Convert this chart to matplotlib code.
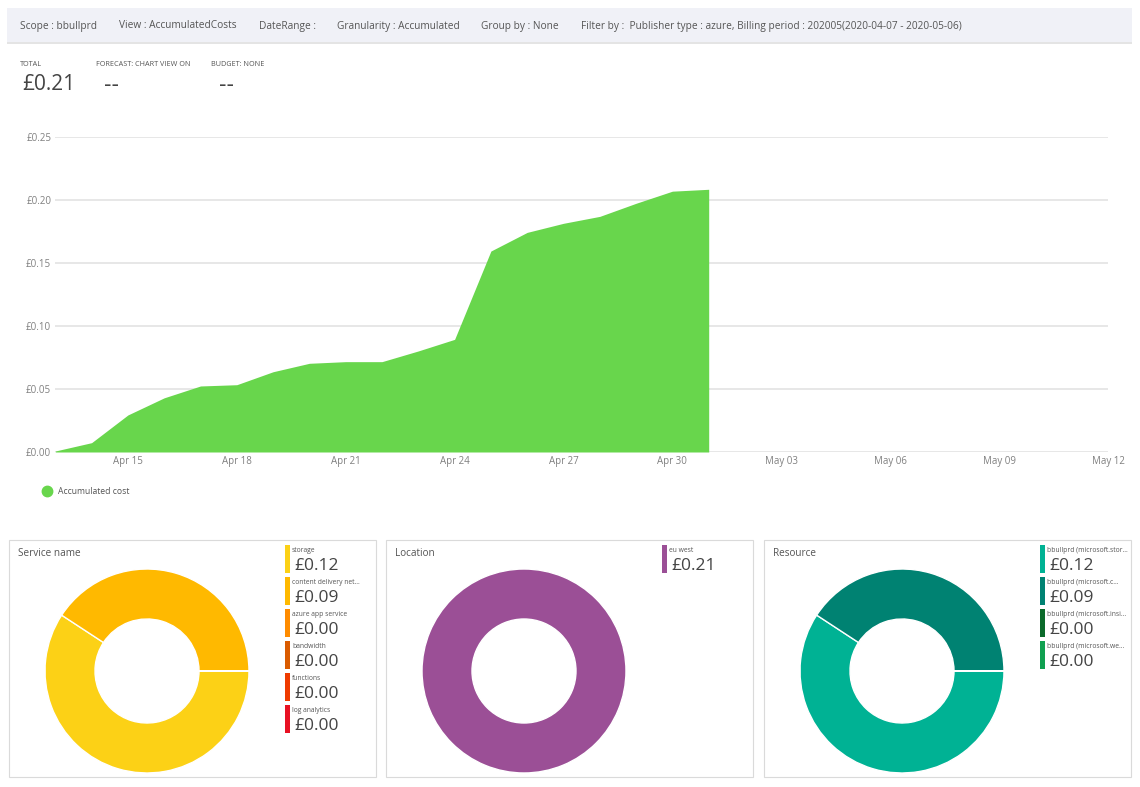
import pandas as pd
import matplotlib
matplotlib.use("Agg")
import matplotlib.pyplot as plt
import matplotlib.dates as mdates
from matplotlib.lines import Line2D
from matplotlib.patches import Rectangle

plt.rcParams["font.family"] = ["Open Sans", "DejaVu Sans"]

W, H = 1140, 787

header_items = ["Scope : bbullprd", "View : AccumulatedCosts", "DateRange :", "Granularity : Accumulated",
                "Group by : None", "Filter by :  Publisher type : azure, Billing period : 202005(2020-04-07 - 2020-05-06)"]
kpi_labels = ["TOTAL", "FORECAST: CHART VIEW ON", "BUDGET: NONE"]
kpi_values = ["£0.21", "--", "--"]

costs = [0.0008, 0.0074, 0.0294, 0.0430, 0.0524, 0.0534, 0.0637, 0.0704, 0.0717, 0.0717,
         0.0802, 0.0894, 0.1595, 0.1743, 0.1815, 0.1870, 0.1974, 0.2070, 0.2085]
dates = pd.date_range("2020-04-13", periods=len(costs))
y_ticks = [0, 0.05, 0.10, 0.15, 0.20, 0.25]

service_names = ["storage", "content delivery net...", "azure app service", "bandwidth", "functions", "log analytics"]
service_costs = [0.1235, 0.0850, 0.00001, 0.00001, 0.00001, 0.00001]
service_labels = ["£0.12", "£0.09", "£0.00", "£0.00", "£0.00", "£0.00"]
service_colors = ["#FCD116", "#FFB900", "#FF8C00", "#DA5B00", "#EF3B00", "#E81123"]

location_names = ["eu west"]
location_costs = [0.21]
location_labels = ["£0.21"]
location_colors = ["#9B4F96"]

resource_names = ["bbullprd (microsoft.stor...", "bbullprd (microsoft.c...", "bbullprd (microsoft.insi...", "bbullprd (microsoft.we..."]
resource_costs = [0.1235, 0.0850, 0.00001, 0.00001]
resource_labels = ["£0.12", "£0.09", "£0.00", "£0.00"]
resource_colors = ["#00B294", "#008272", "#0B6A2B", "#10A050"]


def px_axes(x0, y0, x1, y1):
    # pixel box measured from the top left of the picture
    return fig.add_axes([x0 / W, 1 - y1 / H, (x1 - x0) / W, (y1 - y0) / H])


def px_text(x, y, s, **kw):
    kw.setdefault("va", "center")
    bg.text(x, y, s, **kw)


fig = plt.figure(figsize=(W / 100, H / 100), dpi=100)

# background layer in pixel coordinates
bg = fig.add_axes([0, 0, 1, 1])
bg.set_xlim(0, W)
bg.set_ylim(H, 0)
bg.axis("off")

# header band
bg.add_patch(Rectangle((7, 8), 1125, 34, color="#F0F1F7", lw=0))
bg.add_patch(Rectangle((7, 42), 1125, 1.5, color="#E4E4E4", lw=0))
header_x = [20, 119, 259, 337, 481, 581]
for x, s in zip(header_x, header_items):
    px_text(x, 26, s, fontsize=7.25, color="#555555")

# totals
kpi_x = [20, 96, 211]
for x, s in zip(kpi_x, kpi_labels):
    px_text(x, 64, s, fontsize=5.2, color="#555555")
px_text(22, 84, kpi_values[0], fontsize=15, color="#444444")
for x, s in zip([104, 219], kpi_values[1:]):
    px_text(x, 85, s, fontsize=15, color="#444444", family="DejaVu Sans")

# main area chart
ax = px_axes(55.3, 137, 1108, 452)
ax.fill_between(dates, costs, 0, color="#68D64C", lw=0, zorder=3)
ax.set_xlim(pd.Timestamp("2020-04-13"), pd.Timestamp("2020-05-12"))
ax.set_ylim(0, 0.25)
ax.set_yticks(y_ticks)
ax.set_yticklabels([f"£{v:.2f}" for v in y_ticks])
ax.xaxis.set_major_locator(mdates.DayLocator(bymonthday=[15, 18, 21, 24, 27, 30, 3, 6, 9, 12]))
ax.xaxis.set_major_formatter(mdates.DateFormatter("%b %d"))
ax.grid(axis="y", color="#E0E0E0", lw=1.1, zorder=1)
ax.tick_params(length=0, labelsize=7, labelcolor="#808080", pad=3)
for spine in ax.spines.values():
    spine.set_visible(False)
handle = Line2D([], [], marker="o", ls="", color="#68D64C", markersize=7.5)
ax.legend([handle], ["Accumulated cost"], loc="center left", bbox_to_anchor=(-0.0235, -0.1255), frameon=False,
          fontsize=6.2, labelcolor="#555555", handletextpad=0.3)


def donut_panel(x0, title, names, values, labels, colors, leg_x):
    bg.add_patch(Rectangle((x0, 540), 367, 237, fc="white", ec="#DADADA", lw=0.8))
    px_text(x0 + 8.5, 554, title, fontsize=7.2, color="#555555")
    cx = x0 + 138
    d = px_axes(cx - 103, 568, cx + 103, 774)
    d.pie(values, colors=colors, startangle=0, counterclock=False, radius=1.0,
          wedgeprops={"width": 0.49, "edgecolor": "white", "linewidth": 1})
    d.set_xlim(-1.01, 1.01)
    d.set_ylim(-1.01, 1.01)
    for i, (name, lab, col) in enumerate(zip(names, labels, colors)):
        top = 545 + 32 * i
        bg.add_patch(Rectangle((leg_x, top), 4.6, 28, color=col, lw=0))
        px_text(leg_x + 7, top + 5.5, name, fontsize=4.9, color="#555555")
        px_text(leg_x + 9, top + 21, lab, fontsize=12.5, color="#444444")


donut_panel(9, "Service name", service_names, service_costs, service_labels, service_colors, 285)
donut_panel(386, "Location", location_names, location_costs, location_labels, location_colors, 662)
donut_panel(764, "Resource", resource_names, resource_costs, resource_labels, resource_colors, 1040)

fig.savefig("out.png", dpi=100)
